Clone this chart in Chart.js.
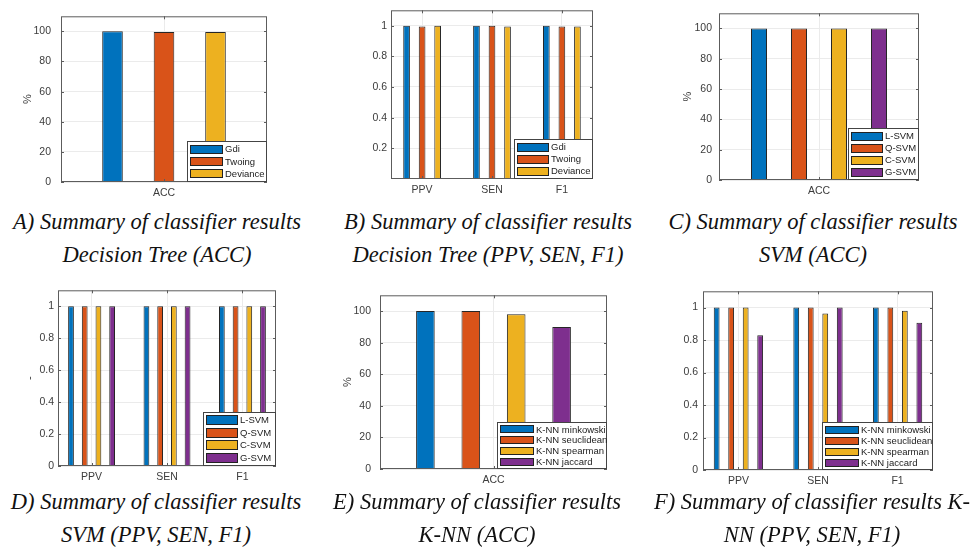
<!DOCTYPE html>
<html>
<head>
<meta charset="utf-8">
<script src="https://cdn.jsdelivr.net/npm/chart.js@4.4.1/dist/chart.umd.min.js"></script>
<style>
  body { margin: 0; background: #fff; width: 973px; height: 556px; position: relative; overflow: hidden; }
  .panel { position: absolute; }
  .cap {
    position: absolute; width: 340px; margin-left: -170px; text-align: center;
    font-family: 'Liberation Serif', 'Times New Roman', serif; font-style: italic;
    font-size: 22.5px; line-height: 33px; color: #111; white-space: nowrap;
  }
</style>
</head>
<body>
<div class="panel" id="pA"><canvas id="cA"></canvas></div>
<div class="panel" id="pB"><canvas id="cB"></canvas></div>
<div class="panel" id="pC"><canvas id="cC"></canvas></div>
<div class="panel" id="pD"><canvas id="cD"></canvas></div>
<div class="panel" id="pE"><canvas id="cE"></canvas></div>
<div class="panel" id="pF"><canvas id="cF"></canvas></div>

<div class="cap" style="left:157px; top:205px">A) Summary of classifier results<br>Decision Tree (ACC)</div>
<div class="cap" style="left:488px; top:205px">B) Summary of classifier results<br>Decision Tree (PPV, SEN, F1)</div>
<div class="cap" style="left:813px; top:205px">C) Summary of classifier results<br>SVM (ACC)</div>
<div class="cap" style="left:156px; top:485px">D) Summary of classifier results<br>SVM (PPV, SEN, F1)</div>
<div class="cap" style="left:477px; top:485px">E) Summary of classifier results<br>K-NN (ACC)</div>
<div class="cap" style="left:812px; top:485px">F) Summary of classifier results K-<br>NN (PPV, SEN, F1)</div>

<script>
// categories and tick labels
const accLabels = ['ACC'];
const metricLabels = ['PPV', 'SEN', 'F1'];
const pctTicks = [0, 20, 40, 60, 80, 100];
const fracTicks = [0, 0.2, 0.4, 0.6, 0.8, 1];
const fracTicksNoZero = [0.2, 0.4, 0.6, 0.8, 1];

// decision tree
const treeNames = ['Gdi', 'Twoing', 'Deviance'];
const treeAcc = [100, 99.6, 99.6];
const treeGdi = [1, 1, 1];
const treeTwoing = [0.995, 1, 0.995];
const treeDeviance = [1, 0.995, 0.995];

// svm
const svmNames = ['L-SVM', 'Q-SVM', 'C-SVM', 'G-SVM'];
const svmAcc = [100, 100, 100, 100];
const svmL = [1, 1, 1];
const svmQ = [1, 1, 1];
const svmC = [1, 1, 1];
const svmG = [1, 1, 1];

// k-nn
const knnNames = ['K-NN minkowski', 'K-NN seuclidean', 'K-NN spearman', 'K-NN jaccard'];
const knnAcc = [100, 100, 98, 90];
const knnMinkowski = [1, 1, 1];
const knnSeuclidean = [1, 1, 1];
const knnSpearman = [1, 0.964, 0.98];
const knnJaccard = [0.83, 1, 0.907];

const colors = ['#0072BD', '#D95319', '#EDB120', '#7E2F8E'];
const FONT = '"Liberation Sans", Arial, sans-serif';
const TXT = '#3c3c3c';

// matlab style box, inner ticks and legend in the lower right corner
const framePlugin = {
  id: 'frame',
  afterDatasetsDraw(chart, args, opts) {
    const { ctx, chartArea: a } = chart;
    const xs = chart.scales.x, ys = chart.scales.y;
    ctx.save();
    ctx.strokeStyle = '#5c5c5c';
    ctx.lineWidth = 1;
    ctx.beginPath();
    ys.ticks.forEach(t => {
      const y = Math.round(ys.getPixelForValue(t.value)) + 0.5;
      ctx.moveTo(a.left, y); ctx.lineTo(a.left + 3, y);
      ctx.moveTo(a.right, y); ctx.lineTo(a.right - 3, y);
    });
    xs.ticks.forEach((t, i) => {
      const x = Math.round(xs.getPixelForTick(i)) + 0.5;
      ctx.moveTo(x, a.bottom); ctx.lineTo(x, a.bottom - 3);
      ctx.moveTo(x, a.top); ctx.lineTo(x, a.top + 3);
    });
    ctx.stroke();
    ctx.strokeRect(a.left + 0.5, a.top + 0.5, a.right - a.left - 1, a.bottom - a.top - 1);

    const lg = opts.legend;
    const n = chart.data.datasets.length;
    const L = a.right - lg.w, T = a.bottom - lg.h;
    ctx.fillStyle = '#fff';
    ctx.fillRect(L, T, lg.w, lg.h);
    ctx.strokeStyle = '#444';
    ctx.strokeRect(L + 0.5, T + 0.5, lg.w - 1, lg.h - 1);
    const rowH = (lg.h - 4) / n;
    ctx.font = '9.5px ' + FONT;
    ctx.textBaseline = 'middle';
    chart.data.datasets.forEach((ds, i) => {
      const cy = T + 2 + rowH * (i + 0.5);
      const sh = Math.round(rowH - 3);
      const sy = Math.round(cy - sh / 2);
      ctx.fillStyle = ds.backgroundColor;
      ctx.fillRect(L + 3, sy, lg.sw, sh);
      ctx.strokeStyle = '#222';
      ctx.strokeRect(L + 3.5, sy + 0.5, lg.sw - 1, sh - 1);
      ctx.fillStyle = '#222';
      ctx.fillText(ds.label, L + lg.sw + 5, cy + 0.5);
    });
    ctx.restore();
  }
};

function makeChart(o) {
  const [bl, bt, bw, bh] = o.box;
  const [pl, pt, pr, pb] = o.plot;
  const holder = document.getElementById(o.holder);
  Object.assign(holder.style, { left: bl + 'px', top: bt + 'px', width: bw + 'px', height: bh + 'px' });

  const datasets = o.series.map((vals, i) => ({
    label: o.names[i],
    data: o.linear ? vals.map((v, k) => ({ x: k + 1, y: v })) : vals,
    backgroundColor: colors[i],
    borderColor: '#262626',
    borderWidth: 1,
    borderSkipped: 'bottom',
    categoryPercentage: o.cat,
    barPercentage: o.bar
  }));

  const xFont = { family: FONT, size: 10.5 };
  const yFont = { family: FONT, size: 10.5 };
  const xScale = o.linear ? {
    type: 'linear', min: 0.555, max: 3.445, offset: false,
    afterBuildTicks: s => { s.ticks = o.cats.map((c, k) => ({ value: k + 1 })); },
    ticks: { callback: v => o.cats[v - 1], autoSkip: false, maxRotation: 0, padding: 5, color: TXT, font: xFont }
  } : {
    type: 'category', offset: true,
    ticks: { autoSkip: false, maxRotation: 0, padding: 5, color: TXT, font: xFont }
  };
  xScale.grid = { color: '#ebebeb', drawTicks: false, offset: false };
  xScale.border = { display: false };
  xScale.afterFit = s => { s.height = bt + bh - pb; };

  new Chart(document.getElementById(o.canvas), {
    type: 'bar',
    data: { labels: o.cats, datasets },
    options: {
      responsive: true,
      maintainAspectRatio: false,
      animation: false,
      layout: { padding: { left: 0, top: pt - bt, right: bl + bw - pr, bottom: 0 } },
      plugins: {
        legend: { display: false },
        tooltip: { enabled: false },
        frame: { legend: o.legend }
      },
      scales: {
        x: xScale,
        y: {
          min: 0, max: o.ymax,
          afterBuildTicks: s => { s.ticks = o.yticks.map(v => ({ value: v })); },
          ticks: { callback: v => String(v), padding: o.ypad, color: TXT, font: yFont },
          grid: { color: '#ebebeb', drawTicks: false },
          border: { display: false },
          title: {
            display: !!o.ytitle, text: o.ytitle || '', color: TXT,
            font: { family: FONT, size: 11 },
            padding: { top: (o.titleX || 0) - bl - 6.6, bottom: 0 }
          },
          afterFit: s => { s.width = pl - bl; }
        }
      }
    },
    plugins: [framePlugin]
  });
}

makeChart({
  holder: 'pA', canvas: 'cA', box: [0, 0, 320, 200], plot: [61, 4, 267, 182],
  cats: accLabels, names: treeNames, series: treeAcc.map(v => [v]),
  cat: 0.75, bar: 0.4, ymax: 110, yticks: pctTicks, ytitle: '%', titleX: 28, ypad: 10,
  legend: { w: 80, h: 41, sw: 33 }
});
makeChart({
  holder: 'pB', canvas: 'cB', box: [330, 0, 320, 200], plot: [391, 6, 593, 179],
  cats: metricLabels, linear: true, names: treeNames, series: [treeGdi, treeTwoing, treeDeviance],
  cat: 0.667, bar: 0.43, ymax: 1.1, yticks: fracTicksNoZero, ypad: 4,
  legend: { w: 79, h: 40, sw: 32 }
});
makeChart({
  holder: 'pC', canvas: 'cC', box: [655, 0, 318, 200], plot: [719, 6, 919, 180],
  cats: accLabels, names: svmNames, series: svmAcc.map(v => [v]),
  cat: 0.8, bar: 0.4, ymax: 110, yticks: pctTicks, ytitle: '%', titleX: 688, ypad: 7,
  legend: { w: 71, h: 52, sw: 32 }
});
makeChart({
  holder: 'pD', canvas: 'cD', box: [0, 280, 320, 205], plot: [58, 289, 276, 466],
  cats: metricLabels, linear: true, names: svmNames, series: [svmL, svmQ, svmC, svmG],
  cat: 0.727, bar: 0.42, ymax: 1.1, yticks: fracTicks, ytitle: '-', titleX: 30, ypad: 4,
  legend: { w: 73, h: 54, sw: 32 }
});
makeChart({
  holder: 'pE', canvas: 'cE', box: [330, 280, 320, 210], plot: [380, 286, 607, 469],
  cats: accLabels, names: knnNames, series: knnAcc.map(v => [v]),
  cat: 0.8, bar: 0.41, ymax: 110, yticks: pctTicks, ytitle: '%', titleX: 348, ypad: 9,
  legend: { w: 110, h: 47, sw: 34 }
});
makeChart({
  holder: 'pF', canvas: 'cF', box: [655, 280, 318, 210], plot: [703, 284, 933, 470],
  cats: metricLabels, linear: true, names: knnNames, series: [knnMinkowski, knnSeuclidean, knnSpearman, knnJaccard],
  cat: 0.729, bar: 0.4, ymax: 1.1, yticks: fracTicks, ypad: 5,
  legend: { w: 111, h: 48, sw: 34 }
});
</script>
</body>
</html>
